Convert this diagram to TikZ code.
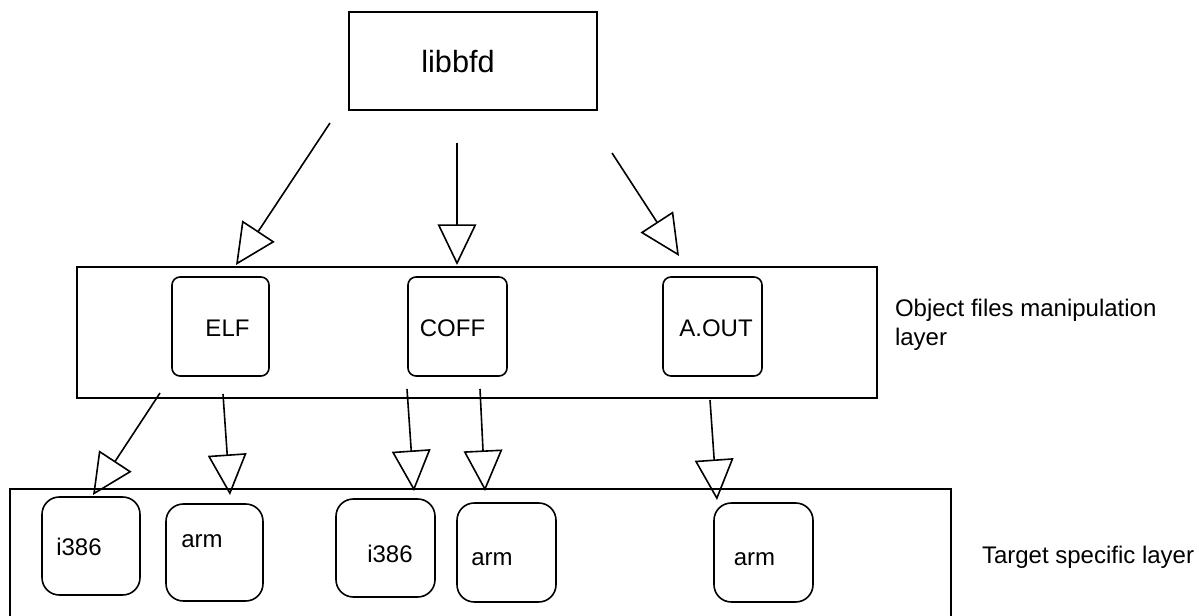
\documentclass[tikz,border=0pt]{standalone}
\usepackage{fontspec}
\setmainfont{Liberation Sans}
\usetikzlibrary{arrows.meta}

\begin{document}
\begin{tikzpicture}[x=0.75pt,y=-0.75pt,
  line width=1.2pt,
  size/.style 2 args={minimum width=#1*0.75pt, minimum height=#2*0.75pt},
  plainbox/.style={draw, rectangle, inner sep=0pt, outer sep=0pt},
  fmtbox/.style={plainbox, rounded corners=6pt},
  tgtbox/.style={plainbox, rounded corners=13pt},
  txt/.style={inner sep=0pt, outer sep=0pt, anchor=base, font=\fontsize{18}{21}\selectfont},
  sidetxt/.style={txt, anchor=base west},
  arr/.style={-{Triangle[open, length=30.5pt, width=29pt]}}
]
\useasboundingbox (0,0) rectangle (1199,616);
\fill[white] (0,0) rectangle (1199,616);
\clip (0,0) rectangle (1199,616);

% library box
\node[plainbox, size={248}{98}] (lib) at (473,61) {};
\node[txt, font=\fontsize{23}{27}\selectfont] (libtxt) at (458,73) {libbfd};

% object file format layer
\node[plainbox, size={800}{131}] (objlayer) at (477,332.5) {};
\node[fmtbox, size={97}{99}] (elf)  at (220.5,326.5) {};
\node[fmtbox, size={99}{99}] (coff) at (457.5,326.5) {};
\node[fmtbox, size={99}{99}] (aout) at (712.5,326.5) {};
\node[txt] (elftxt)  at (227.5,337) {ELF};
\node[txt] (cofftxt) at (452.5,337) {COFF};
\node[txt] (aouttxt) at (716,337) {A.OUT};
\node[sidetxt] (objtxt1) at (895,317) {Object files manipulation};
\node[sidetxt] (objtxt2) at (895,346) {layer};

% target layer (runs past the bottom edge)
\node[plainbox, size={941}{160}] (tgtlayer) at (480.5,569) {};
\node[tgtbox, size={98}{98}] (i386a) at (91,546) {};
\node[tgtbox, size={97}{97}] (arma)  at (214.5,552.5) {};
\node[tgtbox, size={99}{98}] (i386b) at (385.5,548) {};
\node[tgtbox, size={99}{99}] (armb)  at (506.5,552.5) {};
\node[tgtbox, size={99}{99}] (armc)  at (763.5,552.5) {};
\node[txt] (i386atxt) at (79,555) {i386};
\node[txt] (armatxt)  at (202,547) {arm};
\node[txt] (i386btxt) at (390,562) {i386};
\node[txt] (armbtxt)  at (492,565) {arm};
\node[txt] (armctxt)  at (754.5,565) {arm};
\node[sidetxt] (tgttxt) at (982,563.5) {Target specific layer};

% connector end points
\coordinate (libelf)  at (330,123);
\coordinate (elfin)   at (236,265);
\coordinate (libcoff) at (457,143);
\coordinate (coffin)  at (457,265);
\coordinate (libaout) at (612,153);
\coordinate (aoutin)  at (679,256);
\coordinate (elfi)    at (160,393);
\coordinate (i386ain) at (93,495);
\coordinate (elfa)    at (223,394);
\coordinate (armain)  at (230,495);
\coordinate (coffi)   at (407,389);
\coordinate (i386bin) at (414,491);
\coordinate (coffa)   at (480,389);
\coordinate (armbin)  at (485,491);
\coordinate (aouta)   at (710,400);
\coordinate (armcin)  at (717,500);

% arrows
\draw[arr] (libelf)  -- (elfin);
\draw[arr] (libcoff) -- (coffin);
\draw[arr] (libaout) -- (aoutin);
\draw[arr] (elfi)    -- (i386ain);
\draw[arr] (elfa)    -- (armain);
\draw[arr] (coffi)   -- (i386bin);
\draw[arr] (coffa)   -- (armbin);
\draw[arr] (aouta)   -- (armcin);
\end{tikzpicture}
\end{document}
